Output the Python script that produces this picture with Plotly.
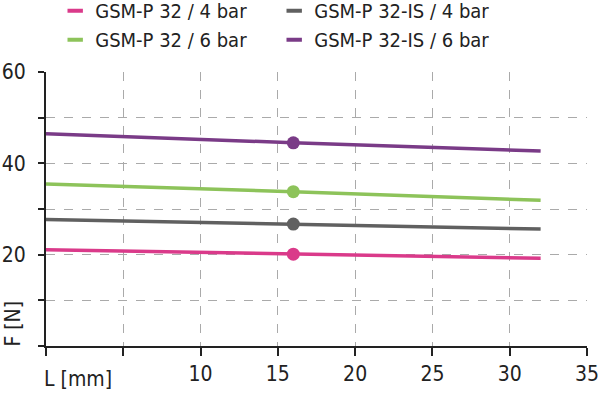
import plotly.graph_objects as go

x_vals = [0, 16, 32]
series_names = ["GSM-P 32 / 4 bar", "GSM-P 32-IS / 4 bar", "GSM-P 32 / 6 bar", "GSM-P 32-IS / 6 bar"]
series_values = [
    [21.1, 20.1, 19.2],
    [27.7, 26.7, 25.6],
    [35.5, 33.8, 31.9],
    [46.5, 44.5, 42.7],
]
colors = ["#DA3A8A", "#606060", "#8DC35A", "#7A3B87"]
marker_x = 16

x_ticks = [0, 5, 10, 15, 20, 25, 30, 35]
x_ticktext = ["", "", "10", "15", "20", "25", "30", "35"]
y_ticks = [0, 10, 20, 30, 40, 50, 60]
y_ticktext = ["", "", "20", "", "40", "", "60"]

FONT = "DejaVu Sans Condensed"
TXT = "#222222"

fig = go.Figure()
for name, vals, c in zip(series_names, series_values, colors):
    fig.add_trace(go.Scatter(x=x_vals, y=vals, mode="lines", line=dict(color=c, width=3.5),
                             showlegend=False, hoverinfo="skip"))
    mi = x_vals.index(marker_x)
    fig.add_trace(go.Scatter(x=[marker_x], y=[vals[mi]], mode="markers",
                             marker=dict(color=c, size=13), showlegend=False))
    fig.add_trace(go.Scatter(x=[None], y=[None], mode="markers", name=name,
                             marker=dict(symbol="line-ew-open", size=11, color=c,
                                         line=dict(color=c, width=4))))

fig.update_layout(
    width=600, height=393,
    margin=dict(l=46, r=13, t=72, b=47, autoexpand=False),
    paper_bgcolor="white", plot_bgcolor="white",
    font=dict(family=FONT, size=21, color=TXT),
    legend=dict(orientation="h", x=0.017, y=1.295, xanchor="left", yanchor="top",
                entrywidth=174, font=dict(size=20, color=TXT), itemwidth=30,
                tracegroupgap=0, bgcolor="rgba(0,0,0,0)"),
    xaxis=dict(range=[0, 35], tickvals=x_ticks, ticktext=x_ticktext,
               showline=True, linecolor=TXT, linewidth=2,
               ticks="outside", ticklen=8, tickwidth=2, tickcolor=TXT,
               showgrid=True, gridcolor="#AAAAAA", griddash="dash", gridwidth=1,
               zeroline=False),
    yaxis=dict(range=[0, 60], tickvals=y_ticks, ticktext=y_ticktext,
               showline=True, linecolor=TXT, linewidth=2,
               ticks="outside", ticklen=6, tickwidth=2, tickcolor=TXT,
               showgrid=True, gridcolor="#AAAAAA", griddash="dash", gridwidth=1,
               zeroline=False, ticklabelstandoff=8),
)

fig.add_annotation(text="L [mm]", xref="paper", yref="paper", x=0, y=-0.12,
                   xanchor="left", yanchor="middle", showarrow=False,
                   font=dict(family=FONT, size=21, color=TXT), xshift=-4)
fig.add_annotation(text="F [N]", xref="paper", yref="y", x=0, y=4.9,
                   xanchor="center", yanchor="middle", textangle=-90, showarrow=False,
                   font=dict(family=FONT, size=21, color=TXT), xshift=-33)

fig.write_html("out.html")
